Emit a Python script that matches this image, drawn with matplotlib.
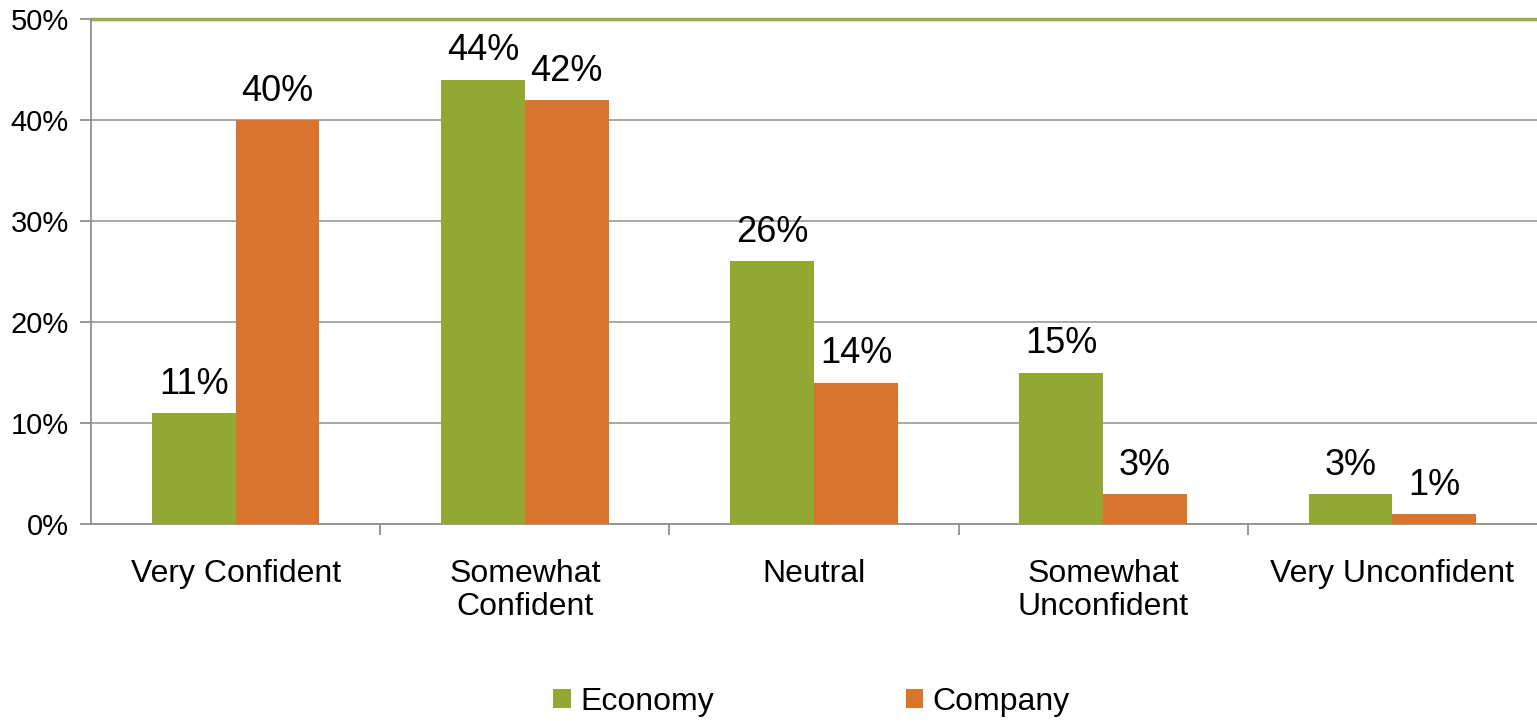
import matplotlib
matplotlib.use('Agg')
import matplotlib.pyplot as plt
import numpy as np

plt.rcParams['font.family'] = ['Liberation Sans', 'DejaVu Sans']

categories = ['Very Confident', 'Somewhat\nConfident', 'Neutral', 'Somewhat\nUnconfident', 'Very Unconfident']
economy = [11, 44, 26, 15, 3]
company = [40, 42, 14, 3, 1]
series_names = ['Economy', 'Company']
colors = ['#93a733', '#d9742c']

fig = plt.figure(figsize=(15.37, 7.21), dpi=100)
ax = fig.add_axes([91 / 1537, 1 - 524 / 721, 1 - 91 / 1537, (524 - 19) / 721])

x = np.arange(len(categories))
w = 0.29
b1 = ax.bar(x - w / 2, economy, w, color=colors[0], label=series_names[0], zorder=3)
b2 = ax.bar(x + w / 2, company, w, color=colors[1], label=series_names[1], zorder=3)

for bars, vals in ((b1, economy), (b2, company)):
    for rect, v in zip(bars, vals):
        ax.text(rect.get_x() + rect.get_width() / 2, v + 1.1, '%d%%' % v,
                ha='center', va='bottom', fontsize=26)

ax.set_xlim(-0.5, len(categories) - 0.5)
ax.set_ylim(0, 50)
ax.set_yticks(np.arange(0, 51, 10))
ax.set_yticklabels(['%d%%' % t for t in range(0, 51, 10)], fontsize=21)
ax.yaxis.grid(True, color='#a0a0a0', linewidth=1.3, zorder=0)
ax.set_axisbelow(True)

ax.set_xticks(x)
ax.set_xticklabels(categories, fontsize=23, linespacing=1.15, va='top')
ax.tick_params(axis='x', length=0, pad=25)
ax.set_xticks(np.arange(0.5, len(categories) - 0.5, 1), minor=True)
ax.tick_params(axis='x', which='minor', length=8, color='#909090', width=1.3)
ax.tick_params(axis='y', length=8, color='#909090', width=1.3, pad=8)

for s in ['top', 'right']:
    ax.spines[s].set_visible(False)
ax.spines['left'].set_color('#909090')
ax.spines['left'].set_linewidth(1.3)
ax.spines['bottom'].set_color('#909090')
ax.spines['bottom'].set_linewidth(1.3)
ax.axhline(50, color='#9aae4c', linewidth=2.5, zorder=2, clip_on=False)

fig.legend(handles=[b1, b2], labels=series_names, loc='lower center',
           bbox_to_anchor=(0.528, -0.034), ncol=2, frameon=False, fontsize=23,
           handlelength=0.55, handleheight=0.55, handletextpad=0.3, columnspacing=6.0)

fig.savefig('out.png', dpi=100)
